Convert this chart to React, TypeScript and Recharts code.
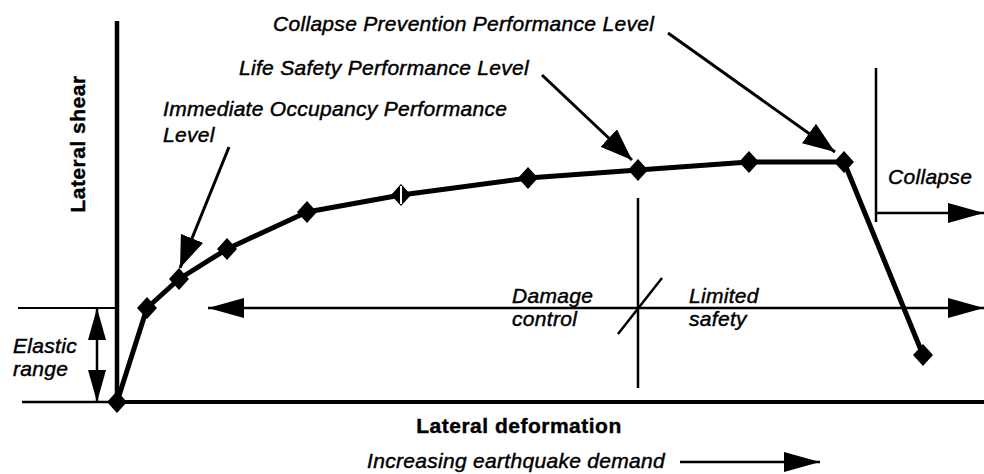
import React from "react";
import { ComposedChart, Line, Scatter, XAxis, YAxis, ReferenceLine } from "recharts";

// Pushover (capacity) curve.
// Units: 1 unit = 10 px, origin at the corner of the two axes.
const deformation = [0, 3.0, 6.2, 11.0, 19.0, 28.4, 41.1, 52.1, 63.2, 72.7, 80.6];
const shear = [0, 9.4, 12.3, 15.3, 19.0, 20.7, 22.4, 23.2, 24.0, 24.0, 4.7];

const X_DOMAIN: [number, number] = [-11.7, 86.7];
const Y_DOMAIN: [number, number] = [-7.2, 40.2];

// italic annotation texts and where they sit (left end of baseline, in chart units)
const italicTexts = [
  "Collapse Prevention Performance Level",
  "Life Safety Performance Level",
  "Immediate Occupancy Performance",
  "Level",
  "Collapse",
  "Damage",
  "control",
  "Limited",
  "safety",
  "Elastic",
  "range",
  "Increasing earthquake demand",
];
const italicX = [15.6, 12.2, 4.6, 4.6, 77.1, 39.5, 39.5, 57.2, 57.2, -10.4, -10.4, 54.8];
const italicY = [37.1, 32.7, 28.6, 26.0, 21.8, 9.9, 7.6, 9.9, 7.6, 4.9, 2.6, -6.6];

// bold axis titles
const axisTitles = ["Lateral shear", "Lateral deformation"];
const axisTitleX = [-3.9, 40.2];
const axisTitleY = [25.8, -3.1];

type Seg = [[number, number], [number, number]];

// pointer arrows from the performance level labels to the curve
const pointerArrows: Seg[] = [
  [[11.2, 25.5], [6.3, 13.4]],
  [[42.5, 32.7], [51.5, 24.2]],
  [[55.1, 36.9], [71.8, 25.0]],
];
// range arrows (both ends)
const doubleArrows: Seg[] = [
  [[-2.0, 0], [-2.0, 9.4]],
  [[9.1, 9.4], [86.7, 9.4]],
];
// one-way range arrows
const singleArrows: Seg[] = [
  [[75.9, 18.9], [86.7, 18.9]],
  [[56.3, -6.0], [70.3, -6.0]],
];
// plain lines: axes, limits, dividers
const thinLines: Seg[] = [
  [[-9.5, 0], [0, 0]],
  [[-9.9, 9.4], [0, 9.4]],
  [[52.1, 20.4], [52.1, 1.4]],
  [[50.1, 6.8], [54.5, 12.4]],
  [[75.9, 33.4], [75.9, 18.0]],
];
const thickLines: Seg[] = [
  [[0, 0], [0, 38.1]],
  [[0, 0], [86.7, 0]],
];

const curveData = deformation.map((d, i) => ({ deformation: d, shear: shear[i] }));

const textData = [
  ...italicTexts.map((t, i) => ({
    deformation: italicX[i],
    shear: italicY[i],
    text: t,
    kind: i === italicTexts.length - 1 ? "italicEnd" : "italic",
  })),
  ...axisTitles.map((t, i) => ({
    deformation: axisTitleX[i],
    shear: axisTitleY[i],
    text: t,
    kind: i === 0 ? "boldRotated" : "bold",
  })),
];

const FONT = "'Liberation Sans', Arial, Helvetica, sans-serif";

const renderDiamond = (p: any) => {
  const { cx, cy, index } = p;
  if (cx == null || cy == null) return <g key={`d-${index}`} />;
  const w = 10;
  const h = 11;
  return (
    <g key={`d-${index}`}>
      <path
        d={`M${cx},${cy - h} L${cx + w},${cy} L${cx},${cy + h} L${cx - w},${cy} Z`}
        fill="#000"
      />
      {index === 5 && (
        <line x1={cx} y1={cy - h + 2} x2={cx} y2={cy + h - 2} stroke="#fff" strokeWidth={2} />
      )}
    </g>
  );
};

const renderText = (p: any) => {
  const { cx, cy, payload } = p;
  const kind = payload.kind;
  if (kind === "boldRotated" || kind === "bold") {
    return (
      <text
        x={cx}
        y={cy}
        dy={kind === "boldRotated" ? "0.35em" : undefined}
        textAnchor="middle"
        transform={kind === "boldRotated" ? `rotate(-90 ${cx} ${cy})` : undefined}
        fontFamily={FONT}
        fontWeight="bold"
        fontSize={21}
        letterSpacing={0.5}
        fill="#000"
        stroke="#000"
        strokeWidth={0.4}
      >
        {payload.text}
      </text>
    );
  }
  return (
    <text
      x={cx}
      y={cy}
      textAnchor={kind === "italicEnd" ? "end" : "start"}
      fontFamily={FONT}
      fontStyle="italic"
      fontSize={21}
      letterSpacing={0.3}
      fill="#000"
      stroke="#000"
      strokeWidth={0.45}
    >
      {payload.text}
    </text>
  );
};

const seg = (s: Seg) => [
  { x: s[0][0], y: s[0][1] },
  { x: s[1][0], y: s[1][1] },
];

export default function App() {
  return (
    <div style={{ position: "absolute", left: 0, top: 0, width: 984, height: 474, background: "#fff" }}>
      <ComposedChart width={984} height={474} data={curveData} margin={{ top: 0, right: 0, bottom: 0, left: 0 }}>
        <defs>
          <marker
            id="headLg"
            viewBox="0 0 36 20"
            refX={36}
            refY={10}
            markerWidth={36}
            markerHeight={20}
            markerUnits="userSpaceOnUse"
            orient="auto-start-reverse"
          >
            <path d="M0,0 L36,10 L0,20 Z" fill="#000" />
          </marker>
          <marker
            id="headSm"
            viewBox="0 0 32 24"
            refX={32}
            refY={12}
            markerWidth={32}
            markerHeight={24}
            markerUnits="userSpaceOnUse"
            orient="auto-start-reverse"
          >
            <path d="M0,0 L32,12 L0,24 Z" fill="#000" />
          </marker>
          <marker
            id="headEl"
            viewBox="0 0 32 18"
            refX={32}
            refY={9}
            markerWidth={32}
            markerHeight={18}
            markerUnits="userSpaceOnUse"
            orient="auto-start-reverse"
          >
            <path d="M0,0 L32,9 L0,18 Z" fill="#000" />
          </marker>
        </defs>
        <XAxis dataKey="deformation" type="number" domain={X_DOMAIN} allowDataOverflow hide />
        <YAxis type="number" domain={Y_DOMAIN} allowDataOverflow hide />

        {thickLines.map((s, i) => (
          <ReferenceLine key={`tk-${i}`} segment={seg(s)} stroke="#000" strokeWidth={i === 0 ? 4.5 : 4} ifOverflow="visible" />
        ))}
        {thinLines.map((s, i) => (
          <ReferenceLine key={`tn-${i}`} segment={seg(s)} stroke="#000" strokeWidth={i === 1 ? 2 : 2.5} ifOverflow="visible" />
        ))}
        {doubleArrows.map((s, i) => (
          <ReferenceLine
            key={`da-${i}`}
            segment={seg(s)}
            stroke="#000"
            strokeWidth={2.5}
            markerStart={i === 0 ? "url(#headEl)" : "url(#headLg)"}
            markerEnd={i === 0 ? "url(#headEl)" : "url(#headLg)"}
            ifOverflow="visible"
          />
        ))}
        {singleArrows.map((s, i) => (
          <ReferenceLine
            key={`sa-${i}`}
            segment={seg(s)}
            stroke="#000"
            strokeWidth={2.5}
            markerEnd="url(#headLg)"
            ifOverflow="visible"
          />
        ))}
        {pointerArrows.map((s, i) => (
          <ReferenceLine
            key={`pa-${i}`}
            segment={seg(s)}
            stroke="#000"
            strokeWidth={3}
            markerEnd="url(#headSm)"
            ifOverflow="visible"
          />
        ))}

        <Line
          dataKey="shear"
          type="linear"
          stroke="#000"
          strokeWidth={5}
          strokeLinejoin="round"
          dot={renderDiamond}
          activeDot={false}
          isAnimationActive={false}
        />
        <Scatter data={textData} dataKey="shear" shape={renderText} isAnimationActive={false} />
      </ComposedChart>
    </div>
  );
}
